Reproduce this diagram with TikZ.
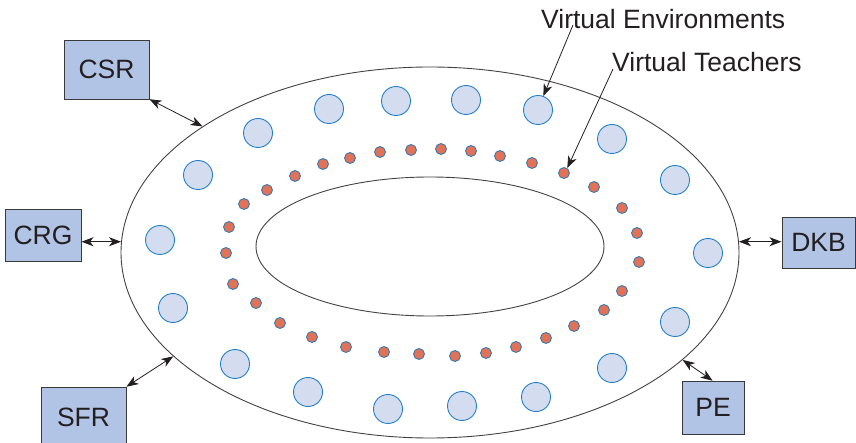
\documentclass[tikz,border=0pt]{standalone}
\usepackage{fontspec}
\setmainfont{Liberation Sans}
\usetikzlibrary{shapes.geometric,arrows.meta,calc}

\definecolor{boxfill}{HTML}{B1C4E6}
\definecolor{boxline}{HTML}{3A3A3A}
\definecolor{envfill}{HTML}{D4DDF0}
\definecolor{envline}{HTML}{2580C8}
\definecolor{tchfill}{HTML}{E07258}
\definecolor{tchline}{HTML}{2A78B8}
\definecolor{ink}{HTML}{231F20}

\tikzset{
  ring/.style={ellipse, draw=ink!85, line width=0.9pt, inner sep=0pt, outer sep=0pt},
  agent/.style={rectangle, draw=boxline, fill=boxfill, line width=0.9pt,
    inner sep=0pt, outer sep=0pt, text=ink, font=\fontsize{26.5}{30}\selectfont},
  envc/.style={circle, draw=envline, fill=envfill, line width=0.9pt,
    minimum size=29pt, inner sep=0pt},
  tchc/.style={circle, draw=tchline, fill=tchfill, line width=0.8pt,
    minimum size=11pt, inner sep=0pt},
  tip/.style={Stealth[length=12pt,width=9pt,inset=3.5pt]},
  link/.style={{Stealth[length=12pt,width=9pt,inset=3.5pt]}-{Stealth[length=12pt,width=9pt,inset=3.5pt]},
    draw=ink, line width=0.8pt, shorten <=0.5pt, shorten >=0.5pt},
  pointer/.style={-{Stealth[length=12pt,width=9pt,inset=3.5pt]}, draw=ink, line width=0.8pt},
  caption/.style={text=ink, font=\fontsize{26.5}{30}\selectfont, inner sep=0pt, anchor=base west}
}

\begin{document}
\begin{tikzpicture}[x=1pt, y=-1pt]
\useasboundingbox (0,0) rectangle (856,443);

% the two rings
\node[ring, minimum width=618pt, minimum height=371pt] (outer) at (430,252.5) {};
\node[ring, minimum width=348pt, minimum height=139pt] (inner) at (430,246.5) {};

% virtual environments
\foreach \x/\y [count=\i] in {329/109, 396/101, 466/100, 538/110, 612/139, 675/180,
    708/253, 675/322, 612/368, 536/397, 462/406, 388/409, 308/392, 235/364,
    173/308, 160/240, 198/175, 258/133}
  \node[envc] (env\i) at (\x,\y) {};

% virtual teachers
\foreach \x/\y [count=\i] in {323/164, 350/158, 380/152, 411/150, 441/149, 471/151,
    500/156, 532/163, 564/173, 594/187, 622/208, 637/233, 639/262, 622/291,
    604/310, 574/326, 546/338, 516/347, 486/353, 455/356, 419/354, 384/352,
    346/347, 312/337, 280/323, 256/303, 233/284, 226/253, 229/227, 244/204,
    267/190, 295/176}
  \node[tchc] (tch\i) at (\x,\y) {};

% agents around the rings
\node[agent, minimum width=85pt, minimum height=59pt] (csr) at (106.5,69.5) {CSR};
\node[agent, minimum width=76pt, minimum height=52pt] (crg) at (43,235) {CRG};
\node[agent, minimum width=73pt, minimum height=51pt] (dkb) at (818.5,242.5) {DKB};
\node[agent, minimum width=85pt, minimum height=60pt] (sfr) at (83.5,417) {SFR};
\node[agent, minimum width=62pt, minimum height=53pt] (pe) at (713,407.5) {PE};

\draw[link] (csr.south east) -- (outer.151.5);
\draw[link] (outer.178) -- (outer.178 -| crg.east);
\draw[link] (outer.2) -- (outer.2 -| dkb.west);
\draw[link] (sfr.north east) -- (outer.202.3);
\draw[link] (outer.337.5) -- (pe.north);

% captions
\node[caption] (envlab) at (541,29) {Virtual Environments};
\node[caption] (tchlab) at (612,72) {Virtual Teachers};
\draw[pointer] ([xshift=32pt,yshift=4pt]envlab.base west) -- (env4.69);
\draw[pointer] ([xshift=1pt,yshift=3pt]tchlab.base west) -- (tch9.56);
\end{tikzpicture}
\end{document}
